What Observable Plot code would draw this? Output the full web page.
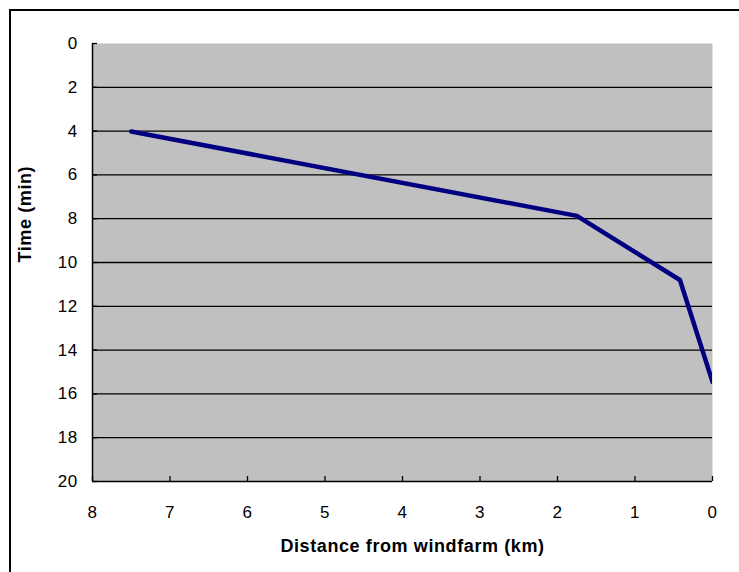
<!DOCTYPE html>
<html>
<head>
<meta charset="utf-8">
<script src="https://cdn.jsdelivr.net/npm/d3@7"></script>
<script src="https://cdn.jsdelivr.net/npm/@observablehq/plot@0.6"></script>
<style>
  html, body { margin: 0; padding: 0; background: #fff; }
  #wrap { position: relative; width: 739px; height: 572px; overflow: hidden; }
  #border { position: absolute; left: 9px; top: 9px; width: 800px; height: 700px; border: 2px solid #000; box-sizing: border-box; }
  #chart { position: absolute; left: 0; top: 0; }
  #chart g[aria-label="text"] text { letter-spacing: 0.6px; }
  #chart g[aria-label$="tick label"] text { letter-spacing: 0.4px; }
</style>
</head>
<body>
<div id="wrap"><div id="border"></div><div id="chart"></div></div>
<script>
// Data
const distanceKm = [7.5, 1.75, 0.42, 0];
const timeMin = [4.02, 7.87, 10.8, 15.45];
const xTicks = [8, 7, 6, 5, 4, 3, 2, 1, 0];
const yTicks = [0, 2, 4, 6, 8, 10, 12, 14, 16, 18, 20];
const gridY = [2, 4, 6, 8, 10, 12, 14, 16, 18, 20];
const xTitle = "Distance from windfarm (km)";
const yTitle = "Time (min)";

const points = distanceKm.map((d, i) => ({distance: d, time: timeMin[i]}));

const chart = Plot.plot({
  width: 739,
  height: 572,
  marginLeft: 92,
  marginTop: 43,
  marginRight: 27,
  marginBottom: 91,
  style: {fontFamily: "'Liberation Sans', Arial, sans-serif", fontSize: "17px", background: "transparent", color: "#000"},
  x: {domain: [0, 8], reverse: true},
  y: {domain: [0, 20], reverse: true},
  marks: [
    Plot.frame({fill: "#c0c0c0", stroke: null}),
    Plot.ruleY(gridY, {stroke: "#000", strokeWidth: 1.3}),
    Plot.ruleX([8], {stroke: "#000", strokeWidth: 1.5}),
    Plot.axisX(xTicks, {tickSize: 0, tickPadding: 24, label: null, fontSize: 17}),
    Plot.axisX(xTicks, {tickSize: -5, text: null, label: null, strokeWidth: 1.3}),
    Plot.axisY(yTicks, {tickSize: 0, tickPadding: 15, label: null, fontSize: 17}),
    Plot.axisY(yTicks, {tickSize: -5, text: null, label: null, strokeWidth: 1.3}),
    Plot.line(points, {x: "distance", y: "time", stroke: "#000080", strokeWidth: 4.5, clip: true}),
    Plot.text([xTitle], {frameAnchor: "bottom", dy: 70, dx: 10, fontWeight: "bold", fontSize: 18}),
    Plot.text([yTitle], {frameAnchor: "left", dx: -67, rotate: -90, fontWeight: "bold", fontSize: 18})
  ]
});
document.getElementById("chart").appendChild(chart);
</script>
</body>
</html>
